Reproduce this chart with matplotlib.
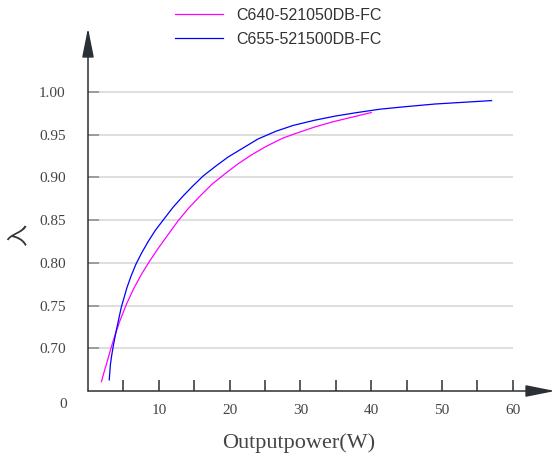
import matplotlib
matplotlib.use("Agg")
import matplotlib.pyplot as plt

# C640-521050DB-FC (magenta), values
c640_w = [1.9, 2.3, 2.8, 3.2, 3.8, 4.5, 5.4, 6.4, 7.5, 8.7, 10.0, 11.3, 12.7, 14.2, 15.8,
          17.5, 19.3, 21.2, 23.2, 25.3, 27.5, 29.5, 32.0, 34.5, 37.0, 40.0]
c640_pf = [0.661, 0.673, 0.687, 0.699, 0.715, 0.732, 0.751, 0.769, 0.786, 0.802, 0.818, 0.833,
           0.849, 0.864, 0.878, 0.892, 0.904, 0.916, 0.927, 0.937, 0.946, 0.952, 0.959, 0.965,
           0.970, 0.976]

# C655-521500DB-FC (blue)
c655_w = [3.0, 3.15, 3.35, 3.6, 4.0, 4.7, 5.5, 6.1, 6.8, 7.6, 8.5, 9.5, 10.7, 12.0, 13.4,
          14.8, 16.3, 18.0, 19.8, 21.8, 24.0, 26.5, 29.0, 32.0, 35.0, 38.0, 41.3, 45.0, 49.0,
          53.0, 57.0]
c655_pf = [0.663, 0.680, 0.692, 0.704, 0.721, 0.748, 0.771, 0.785, 0.799, 0.812, 0.825, 0.838,
           0.851, 0.865, 0.878, 0.890, 0.902, 0.913, 0.924, 0.934, 0.945, 0.954, 0.961, 0.967,
           0.972, 0.976, 0.980, 0.983, 0.986, 0.988, 0.990]

x_ticks = [5, 10, 15, 20, 25, 30, 35, 40, 45, 50, 55, 60]
x_labels = ["", "10", "", "20", "", "30", "", "40", "", "50", "", "60"]
y_ticks = [0.70, 0.75, 0.80, 0.85, 0.90, 0.95, 1.00]

axis_col = "#2b2f36"
text_col = "#444444"
serif = "Liberation Serif"

fig = plt.figure(figsize=(5.55, 4.59), dpi=100)
ax = fig.add_axes([88 / 555, 68 / 459, 467 / 555, 363 / 459])
ax.set_xlim(0, 65.96)
ax.set_ylim(0.65, 1.075)

# gridlines only up to x=60
ax.hlines(y_ticks, 0, 60, color="#d4d4d4", lw=1.1, zorder=1)

ax.plot(c640_w, c640_pf, color="#ff00ff", lw=0.9, label="C640-521050DB-FC", zorder=3)
ax.plot(c655_w, c655_pf, color="#0000ff", lw=0.9, label="C655-521500DB-FC", zorder=3)

for s in ["top", "right", "left", "bottom"]:
    ax.spines[s].set_visible(False)

# axes with arrow heads
arrow = dict(arrowstyle="-|>,head_length=0.9,head_width=0.18", mutation_scale=20,
             color=axis_col, lw=1.1, shrinkA=0, shrinkB=0)
ax.annotate("", xy=(1, 0), xytext=(0, 0), xycoords="axes fraction", arrowprops=arrow)
ax.annotate("", xy=(0, 1), xytext=(0, 0), xycoords="axes fraction", arrowprops=arrow)

ax.set_xticks(x_ticks)
ax.set_xticklabels(x_labels)
ax.set_yticks(y_ticks)
ax.set_yticklabels(["%.2f" % v for v in y_ticks])
ax.tick_params(axis="x", direction="in", length=8, width=1.1, color=axis_col, pad=9,
               labelsize=11, labelcolor=text_col)
ax.tick_params(axis="y", direction="in", length=8, width=1.1, color="#888888", pad=16,
               labelsize=11, labelcolor=text_col)
for lab in ax.get_xticklabels() + ax.get_yticklabels():
    lab.set_fontfamily(serif)

# origin label
fig.text(63 / 555, 1 - 404 / 459, "0", ha="center", va="center", fontsize=11,
         family=serif, color=text_col)

fig.text(299 / 555, 1 - 443 / 459, "Outputpower(W)", ha="center", va="center",
         fontsize=16, family=serif, color=text_col)
fig.text(18 / 555, 1 - 235 / 459, "入", ha="center", va="center", rotation=90,
         fontsize=16, family=["Noto Sans CJK SC", "DejaVu Sans"], color="#333333")

fig.legend(loc="upper left", bbox_to_anchor=(175 / 555, 1 - 8 / 459), frameon=False,
           borderpad=0, borderaxespad=0, handlelength=3.0, handletextpad=0.85,
           labelspacing=0.55, prop={"family": "Liberation Sans", "size": 11.5},
           labelcolor="#333333")

fig.savefig("out.png", dpi=100)
